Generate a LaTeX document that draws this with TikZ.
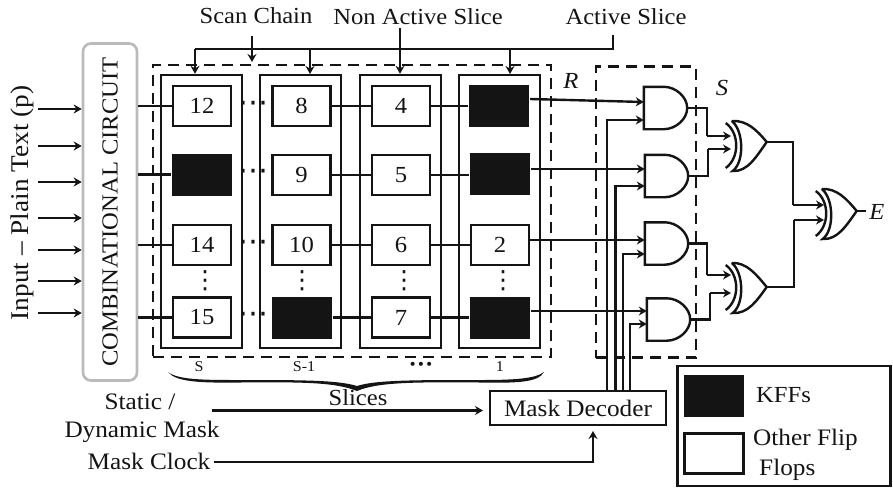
\documentclass[tikz,border=0pt]{standalone}
\usepackage{fontspec}
\setmainfont[FakeStretch=1.07]{Liberation Serif}
\newfontfamily\symfont{DejaVu Sans}
\usepackage{tikz}
\usetikzlibrary{arrows.meta, calc}
\definecolor{inkblack}{HTML}{141414}
\tikzset{every node/.append style={align=center, inner sep=0pt, text=inkblack}}
% gate outlines around an invisible named box
\newcommand{\andgate}[2]{
  \node[gatebox, minimum height=40pt] (#1) at #2 {};
  \draw[wire, line join=miter] (#1.north west) -- ++(20,0) .. controls +(12,0) and +(0,-11) .. (#1.east)
      .. controls +(0,11) and +(12,0) .. ($(#1.south west)+(20,0)$) -- (#1.south west) -- cycle;
}
\newcommand{\xorgate}[3]{
  \node[gatebox, minimum height=50pt] (#1) at #2 {};
  \coordinate (#1o) at ($(#1.east)+(0,#3)$);
  \draw[wire] ($(#1.east)+(-35,-25)$) .. controls +(15,-1) and +(-10,-12) .. (#1o)
      .. controls +(-10,14) and +(15,1) .. ($(#1.east)+(-34,25)$)
      .. controls +(12,-9) and +(12,9) .. ($(#1.east)+(-35,-25)$);
  \draw[wire] ($(#1.east)+(-41,-23)$) .. controls +(14,10) and +(14,-10) .. ($(#1.east)+(-41,22)$);
}

\begin{document}
\begin{tikzpicture}[
    x=1pt, y=-1pt, line width=2.4pt, draw=inkblack,
    lbl/.style={font=\fontsize{23}{27}\selectfont},
    lblb/.style={font=\fontsize{23.6}{27}\selectfont},
    lbli/.style={font=\fontsize{23}{27}\selectfont\itshape},
    small/.style={font=\fontsize{15}{17}\selectfont},
    hdots/.style={font=\fontsize{30}{30}\selectfont\symfont},
    vdots/.style={font=\fontsize{25}{25}\selectfont\symfont},
    ffbox/.style={rectangle, draw=inkblack, fill=white, minimum width=58pt, minimum height=40pt, font=\fontsize{23}{27}\selectfont},
    kff/.style={rectangle, fill=inkblack, minimum width=60pt, minimum height=42pt},
    slice/.style={rectangle, draw=inkblack, minimum width=81pt, minimum height=273pt},
    dashbox/.style={rectangle, draw=inkblack, dash pattern=on 11pt off 7pt},
    combbox/.style={rectangle, rounded corners=8pt, draw=black!27, line width=2.6pt, minimum width=54pt, minimum height=337pt},
    gatebox/.style={rectangle, minimum width=41pt},
    wire/.style={draw=inkblack, line width=2.4pt},
    arr/.style={-{Stealth[length=8pt, width=9pt]}, draw=inkblack, line width=2.4pt}
]
\useasboundingbox (0,0) rectangle (893,488);
% Dashed regions
\node[dashbox, minimum width=398pt, minimum height=292pt] (rbox) at (352,211) {};
\node[dashbox, minimum width=100pt, minimum height=291pt] (sbox) at (646,212) {};
\node[lbli] (rlbl) at (571,81) {R};
\node[lbli] (slbl) at (722,88) {S};
% Input side
\node[combbox] (comb) at (110,212) {};
\node[lbl, rotate=90] (combtxt) at (comb) {COMBINATIONAL CIRCUIT};
\node[rotate=90, font=\fontsize{25.5}{28}\selectfont] (intxt) at (22,203) {Input -- Plain Text (p)};
\coordinate (in1) at (38,109);
\coordinate (in2) at (38,146);
\coordinate (in3) at (38,182);
\coordinate (in4) at (38,218);
\coordinate (in5) at (38,250);
\coordinate (in6) at (38,281);
\coordinate (in7) at (38,313);
\draw[arr] (in1) -- (in1 -| comb.west);
\draw[arr] (in2) -- (in2 -| comb.west);
\draw[arr] (in3) -- (in3 -| comb.west);
\draw[arr] (in4) -- (in4 -| comb.west);
\draw[arr] (in5) -- (in5 -| comb.west);
\draw[arr] (in6) -- (in6 -| comb.west);
\draw[arr] (in7) -- (in7 -| comb.west);
% Slices
\node[slice] (sl1) at (201.5,211.5) {};
\node[slice] (sl2) at (300.5,211.5) {};
\node[slice] (sl3) at (400.5,211.5) {};
\node[slice] (sl4) at (499.5,211.5) {};
\node[ffbox] (ff12) at (202,106) {12};
\node[kff] (ff13) at (202,174.5) {};
\node[ffbox] (ff14) at (202,245) {14};
\node[ffbox] (ff15) at (202,317.5) {15};
\node[ffbox] (ff8) at (301.5,106) {8};
\node[ffbox] (ff9) at (301.5,175) {9};
\node[ffbox] (ff10) at (301.5,245) {10};
\node[kff] (ff11) at (301.5,317.5) {};
\node[ffbox] (ff4) at (401,106) {4};
\node[ffbox] (ff5) at (401,175) {5};
\node[ffbox] (ff6) at (401,245) {6};
\node[ffbox] (ff7) at (401,317.5) {7};
\node[kff] (ff0) at (499,106) {};
\node[kff] (ff1) at (500,174) {};
\node[ffbox] (ff2) at (500,245) {2};
\node[kff] (ff3) at (500,317.5) {};
\node[hdots] (hd1) at (253,107) {⋯};
\node[hdots] (hd2) at (253,175) {⋯};
\node[hdots] (hd3) at (253,246) {⋯};
\node[hdots] (hd4) at (253,318) {⋯};
\node[vdots] (vd1) at (205,281) {⋮};
\node[vdots] (vd2) at (302,281) {⋮};
\node[vdots] (vd3) at (404,281) {⋮};
\node[vdots] (vd4) at (503,281) {⋮};
% Chain wires
\draw[wire] (comb.east |- ff12) -- (ff12.west |- ff12);
\draw[wire] (comb.east |- ff13) -- (ff13);
\draw[wire] (comb.east |- ff14) -- (ff14.west |- ff14);
\draw[wire] (comb.east |- ff15) -- (ff15.west |- ff15);
\draw[wire] (ff8) -- (ff4);
\draw[wire] (ff9) -- (ff5);
\draw[wire] (ff10) -- (ff6);
\draw[wire] (ff11) -- (ff7);
\draw[wire] (ff4) -- (ff4 -| ff0.west);
\draw[wire] (ff5) -- (ff5 -| ff1.west);
\draw[wire] (ff6) -- (ff2);
\draw[wire] (ff7) -- (ff3);
% Slice labels and brace
\node[small] (slS) at (199,367) {S};
\node[small] (slT) at (304,367) {S-1};
\node[font=\fontsize{14}{15}\selectfont\symfont] (slD) at (421,366) {•••};
\node[small] (slO) at (500,367) {1};
\fill[inkblack] (168,372) .. controls (176,382) and (200,383) .. (240,382.5)
    .. controls (300,382) and (335,382) .. (357,391)
    .. controls (378,382) and (415,382) .. (480,382.5)
    .. controls (515,383) and (538,383) .. (544,372)
    .. controls (535,379) and (512,380) .. (480,380)
    .. controls (415,380) and (375,380) .. (357,386)
    .. controls (338,380) and (300,380) .. (240,380)
    .. controls (205,380) and (178,380) .. (168,372) -- cycle;
\node[lbl] (slices) at (358,398) {Slices};
% Top labels
\node[lbl] (scan) at (256,16) {Scan Chain};
\node[lbl] (nonact) at (418,17) {Non Active Slice};
\node[lbl] (act) at (626,17) {Active Slice};
\coordinate (bL) at (195,49);
\coordinate (bR) at (613,49);
\coordinate (scanS) at (252,36);
\coordinate (scanE) at (252,62);
\coordinate (actS) at (613,35);
\coordinate (nonS) at (400,28);
\draw[wire] (actS) -- (bR) -- (bL);
\draw[arr] (scanS) -- (scanE);
\draw[arr] (bL) -- (bL |- sl1.north);
\draw[arr] (310,49) -- (310,74);
\draw[arr] (nonS) -- (nonS |- sl3.north);
\draw[arr] (510,49) -- (510,74);
% AND gates
\andgate{and1}{(665.5,108)}
\andgate{and2}{(666.5,176)}
\andgate{and3}{(666.5,243.5)}
\andgate{and4}{(668.5,319.5)}
\coordinate (a1p) at (and1.west |- 0,102);
\coordinate (a1m) at (and1.west |- 0,120);
\coordinate (a2m) at (and2.west |- 0,186);
\coordinate (a3m) at (and3.west |- 0,254);
\coordinate (a4m) at (and4.west |- 0,324);
\draw[arr] (ff0.east |- 0,99) -- (a1p);
\draw[arr] (ff1.east |- 0,169) -- (and2.west |- 0,169);
\draw[arr] (ff2.east |- 0,240) -- (and3.west |- 0,240);
\draw[arr] (ff3.east |- 0,311) -- (and4.west |- 0,311);
% Mask decoder
\node[rectangle, draw=inkblack, lblb, minimum width=176pt, minimum height=34pt] (dec) at (578,408) {Mask Decoder};
\draw[arr] (607,391) |- (a1m);
\draw[arr] (615.5,391) |- (a2m);
\draw[arr] (623,391) |- (a3m);
\draw[arr] (630,391) |- (a4m);
\node[lblb] (stat) at (140,402) {Static /};
\node[lblb] (dyn) at (142,432) {Dynamic Mask};
\node[lblb] (clk) at (149,461) {Mask Clock};
\coordinate (statS) at (212,410.5);
\coordinate (statE) at (483,410.5);
\coordinate (clkS) at (214,462);
\coordinate (clkE) at (593,431);
\draw[arr] (statS) -- (statE);
\draw[arr] (clkS) -| (clkE);
% XOR gates
\xorgate{xor1}{(745,146)}{-4}
\xorgate{xor2}{(745,288)}{-1}
\xorgate{xor3}{(835,214)}{-3}
\draw[wire] (and1.east) -| (707,136);
\draw[arr] (707,136) -- (731,136);
\draw[wire] (and2.east) -| (708,149);
\draw[arr] (708,149) -- (731,149);
\draw[wire] (and3.east) -| (707,275);
\draw[arr] (707,275) -- (731,275);
\draw[wire] (and4.east) -| (710,293);
\draw[arr] (710,293) -- (731,293);
\draw[wire] (xor1o) -| (793,205);
\draw[arr] (793,205) -- (824,205);
\draw[wire] (xor2o) -| (794,220);
\draw[arr] (794,220) -- (824,220);
\draw[wire] (xor3o) -- ++(9,0) coordinate (eout);
\node[lbli] (elbl) at (877,212) {E};
% Legend
\node[rectangle, draw=inkblack, minimum width=213pt, minimum height=120pt] (leg) at (784,426) {};
\node[kff] (legk) at (714,396) {};
\node[ffbox, minimum width=59pt] (lego) at (714,453.5) {};
\node[lbl, anchor=west] (legkt) at (755,395) {KFFs};
\node[lblb, anchor=west] (legot) at (752,440) {Other Flip};
\node[lblb, anchor=west] (legft) at (758,470) {Flops};
\end{tikzpicture}
\end{document}
